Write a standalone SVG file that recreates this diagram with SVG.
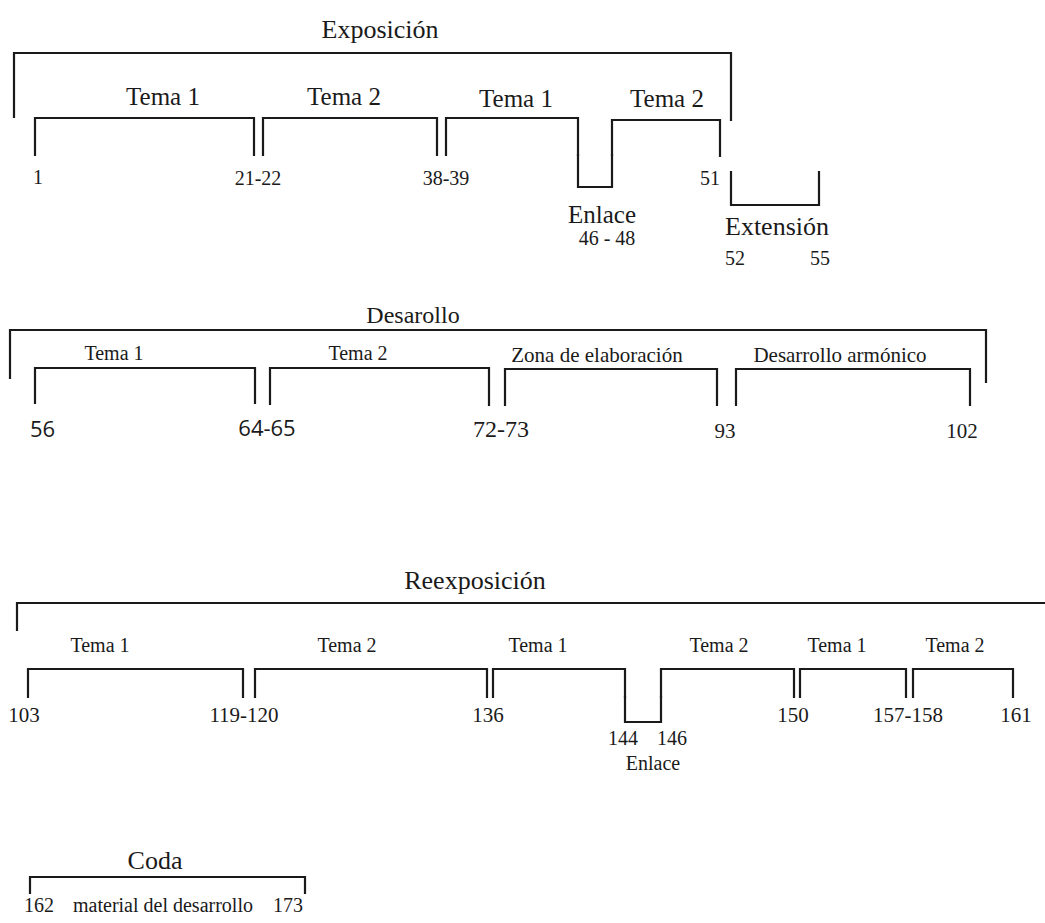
<svg xmlns="http://www.w3.org/2000/svg" width="1045" height="923" viewBox="0 0 1045 923">
<style>
.b{fill:none;stroke:#1a1a1a;stroke-width:2.2;stroke-linejoin:miter;stroke-linecap:square}
text{font-family:"Liberation Serif","Times New Roman",serif;fill:#1a1a1a}
.t{font-size:26px}
.m{font-size:25px}
.s{font-size:20px}
.n{font-size:20px}
.ns{font-family:"Open Sans","Noto Sans",sans-serif;font-size:22px}
.c{text-anchor:middle}
</style>
<rect width="1045" height="923" fill="#ffffff"/>

<g id="exposicion">
  <path class="b" d="M14,117 V53 H731 V120"/>
  <text class="t c" x="380" y="38">Exposición</text>
  <g id="expo-tema1a">
    <path class="b" d="M35,155 V118 H254 V155"/>
    <text class="m c" x="163" y="105">Tema 1</text>
  </g>
  <g id="expo-tema2a">
    <path class="b" d="M263,155 V118 H437 V155"/>
    <text class="m c" x="344" y="105">Tema 2</text>
  </g>
  <g id="expo-tema1b">
    <path class="b" d="M446,155 V118 H578 V155"/>
    <text class="m c" x="516" y="107">Tema 1</text>
  </g>
  <g id="expo-enlace">
    <path class="b" d="M578,155 V187 H612 V155"/>
    <text class="m c" x="602" y="223">Enlace</text>
    <text class="n c" x="607" y="245">46 - 48</text>
  </g>
  <g id="expo-tema2b">
    <path class="b" d="M612,155 V120 H720 V156"/>
    <text class="m c" x="667" y="107">Tema 2</text>
  </g>
  <g id="expo-extension">
    <path class="b" d="M731,172 V205 H819 V172"/>
    <text class="t c" x="777" y="235">Extensión</text>
    <text class="n" x="725" y="265">52</text>
    <text class="n" x="810" y="265">55</text>
  </g>
  <text class="n" x="33" y="184">1</text>
  <text class="n c" x="258" y="185">21-22</text>
  <text class="n c" x="446" y="185">38-39</text>
  <text class="n" x="700" y="185">51</text>
</g>

<g id="desarrollo">
  <path class="b" d="M10,378 V330 H986 V382"/>
  <text class="t c" x="413" y="323" style="font-size:24px">Desarollo</text>
  <g id="des-tema1">
    <path class="b" d="M35,403 V368 H255 V403"/>
    <text class="s c" x="114" y="360">Tema 1</text>
  </g>
  <g id="des-tema2">
    <path class="b" d="M270,404 V368 H489 V405"/>
    <text class="s c" x="358" y="360">Tema 2</text>
  </g>
  <g id="des-zona">
    <path class="b" d="M505,405 V369 H717 V405"/>
    <text class="s c" x="597" y="362" style="font-size:21px">Zona de elaboración</text>
  </g>
  <g id="des-armonico">
    <path class="b" d="M736,405 V369 H970 V405"/>
    <text class="s c" x="840" y="362" style="font-size:21px">Desarrollo armónico</text>
  </g>
  <text class="ns" x="30" y="437">56</text>
  <text class="ns c" x="267" y="436">64-65</text>
  <text class="c" x="501" y="437" style="font-size:24px">72-73</text>
  <text class="n c" x="725" y="438" style="font-size:21px">93</text>
  <text class="n c" x="962" y="438" style="font-size:21px">102</text>
</g>

<g id="reexposicion">
  <path class="b" d="M17,630 V603 H1046"/>
  <text class="t c" x="475" y="589">Reexposición</text>
  <g id="re-tema1a">
    <path class="b" d="M28,697 V669 H243 V697"/>
    <text class="s c" x="100" y="652">Tema 1</text>
  </g>
  <g id="re-tema2a">
    <path class="b" d="M255,697 V669 H487 V697"/>
    <text class="s c" x="347" y="652">Tema 2</text>
  </g>
  <g id="re-tema1b">
    <path class="b" d="M493,697 V669 H625 V697"/>
    <text class="s c" x="538" y="652">Tema 1</text>
  </g>
  <g id="re-enlace">
    <path class="b" d="M625,697 V722 H661 V697"/>
    <text class="n c" x="623" y="745">144</text>
    <text class="n c" x="672" y="745">146</text>
    <text class="s c" x="653" y="770">Enlace</text>
  </g>
  <g id="re-tema2b">
    <path class="b" d="M661,697 V669 H794 V697"/>
    <text class="s c" x="719" y="652">Tema 2</text>
  </g>
  <g id="re-tema1c">
    <path class="b" d="M800,697 V669 H906 V697"/>
    <text class="s c" x="837" y="652">Tema 1</text>
  </g>
  <g id="re-tema2c">
    <path class="b" d="M913,697 V669 H1013 V697"/>
    <text class="s c" x="955" y="652">Tema 2</text>
  </g>
  <text class="n c" x="24" y="722" style="font-size:21px">103</text>
  <text class="n c" x="244" y="722" style="font-size:21px">119-120</text>
  <text class="n c" x="488" y="722" style="font-size:21px">136</text>
  <text class="n c" x="793" y="722" style="font-size:21px">150</text>
  <text class="n c" x="908" y="722" style="font-size:21px">157-158</text>
  <text class="n c" x="1016" y="722" style="font-size:21px">161</text>
</g>

<g id="coda">
  <path class="b" d="M30,893 V877 H305 V893"/>
  <text class="t c" x="155" y="869">Coda</text>
  <text class="n c" x="39" y="912">162</text>
  <text class="n c" x="163" y="912">material del desarrollo</text>
  <text class="n c" x="288" y="912">173</text>
</g>
</svg>
